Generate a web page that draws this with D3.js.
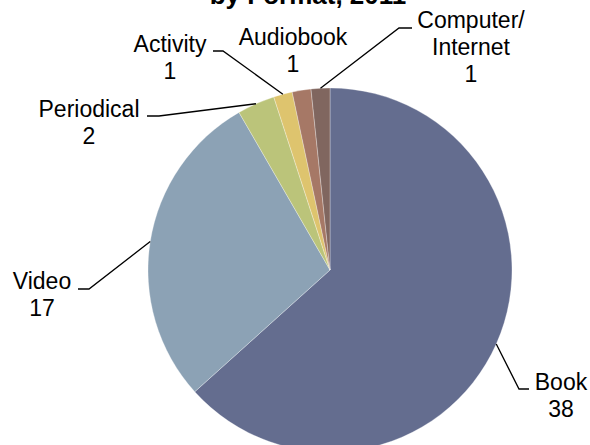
<!DOCTYPE html>
<html>
<head>
<meta charset="utf-8">
<script src="https://cdn.jsdelivr.net/npm/d3@7"></script>
<style>
  body { margin: 0; background: #fff; }
  svg { display: block; }
  text { font-family: "Liberation Sans", Arial, sans-serif; fill: #000; }
</style>
</head>
<body>
<svg id="chart" width="590" height="445"></svg>
<script>
// data
const formats = ["Book", "Video", "Periodical", "Activity", "Audiobook", "Computer/\nInternet"];
const counts = [38, 17, 2, 1, 1, 1];
const colors = ["#646d8f", "#8ca2b5", "#bbc47a", "#dec46e", "#a67866", "#80665f"];

// label placement relative to pie centre: text centre, first baseline, elbow of leader
const labelLayout = [
  { tx: 231, ty: 120, ex: 189, ey: 119, hx: 199, line: true },
  { tx: -288, ty: 19, ex: -241, ey: 19, hx: -252, line: true },
  { tx: -241, ty: -153, ex: -171, ey: -154, hx: -183, line: true },
  { tx: -160, ty: -218, ex: -107, ey: -219, hx: -117, line: true },
  { tx: -37, ty: -225, line: false },
  { tx: 141, ty: -242, ex: 69, ey: -242, hx: 82, line: true }
];

const config = {
  width: 590,
  height: 445,
  cx: 330,
  cy: 270,
  radius: 182,
  fontSize: 23,
  lineHeight: 27
};

const svg = d3.select("#chart");

// title, cut off by the top of the frame
svg.append("text")
  .attr("x", 308)
  .attr("y", 4)
  .attr("text-anchor", "middle")
  .style("font-weight", "bold")
  .style("font-size", "26px")
  .text("by Format, 2011");

const pie = d3.pie().sort(null).value(d => d.value);
const arc = d3.arc().innerRadius(0).outerRadius(config.radius);

const data = formats.map((f, i) => ({ name: f, value: counts[i], color: colors[i], layout: labelLayout[i] }));
const arcs = pie(data);

const g = svg.append("g")
  .attr("transform", `translate(${config.cx},${config.cy})`);

g.selectAll("path.slice")
  .data(arcs)
  .enter()
  .append("path")
  .attr("class", "slice")
  .attr("d", arc)
  .attr("fill", d => d.data.color)
  .attr("stroke", "#fff")
  .attr("stroke-opacity", 0.5)
  .attr("stroke-width", 0.6);

//Leader lines: from the slice's outer edge to the elbow, then a short horizontal
const edgePoint = d => {
  const a = (d.startAngle + d.endAngle) / 2;
  return [config.radius * Math.sin(a), -config.radius * Math.cos(a)];
};

g.selectAll("polyline.leader")
  .data(arcs.filter(d => d.data.layout.line))
  .enter()
  .append("polyline")
  .attr("class", "leader")
  .attr("points", d => {
    const p = edgePoint(d);
    const L = d.data.layout;
    return [p, [L.ex, L.ey], [L.hx, L.ey]].map(q => q.join(",")).join(" ");
  })
  .attr("fill", "none")
  .attr("stroke", "#000")
  .attr("stroke-width", 1.3);

//Labels
const labels = g.selectAll("text.label")
  .data(arcs)
  .enter()
  .append("text")
  .attr("class", "label")
  .attr("text-anchor", "middle")
  .style("font-size", config.fontSize + "px");

labels.each(function(d) {
  const lines = d.data.name.split("\n").concat([String(d.data.value)]);
  const L = d.data.layout;
  d3.select(this).selectAll("tspan")
    .data(lines)
    .enter()
    .append("tspan")
    .attr("x", L.tx)
    .attr("y", (t, i) => L.ty + i * config.lineHeight)
    .text(t => t);
});
</script>
</body>
</html>
